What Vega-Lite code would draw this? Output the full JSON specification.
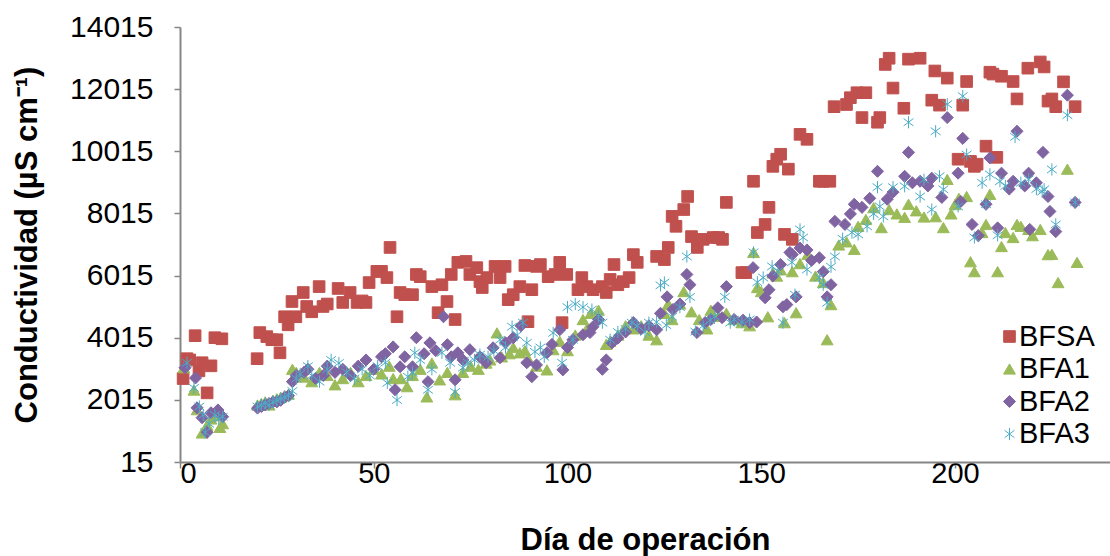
{
  "$schema": "https://vega.github.io/schema/vega-lite/v6.json",
  "width": 930,
  "height": 435,
  "autosize": {"type": "none"},
  "padding": {"left": 180, "top": 27, "right": 0, "bottom": 94},
  "background": "white",
  "config": {
    "view": {"stroke": null},
    "font": "Liberation Sans",
    "axis": {"grid": false, "domainColor": "#868686", "domainWidth": 2, "tickColor": "#868686", "tickWidth": 1.5, "tickSize": 6, "labelFont": "Liberation Sans", "labelColor": "#000000", "labelFontSize": 30, "titleFont": "Liberation Sans", "titleFontWeight": "bold", "titleFontSize": 31, "titleColor": "#000000"}
  },
  "data": {"values": [
    {"dia":0.8,"BFSA":2700},{"dia":1.8,"BFSA":3340},{"dia":2.5,"BFSA":3300},{"dia":3.9,"BFSA":4080},{"dia":4.9,"BFSA":2950},{"dia":5.7,"BFSA":3210},{"dia":7,"BFSA":2240},{"dia":8,"BFSA":3110},{"dia":9,"BFSA":4015},{"dia":10.8,"BFSA":3980},
    {"dia":19.9,"BFSA":3340},{"dia":20.6,"BFSA":4180},{"dia":22.4,"BFSA":4050},{"dia":23.7,"BFSA":3950},{"dia":25,"BFSA":3950},{"dia":25.8,"BFSA":3530},{"dia":27,"BFSA":4690},{"dia":27.9,"BFSA":4430},{"dia":28.9,"BFSA":5180},{"dia":29.9,"BFSA":4690},{"dia":31.8,"BFSA":5470},{"dia":32.7,"BFSA":5020},{"dia":34,"BFSA":4850},{"dia":35.9,"BFSA":5660},{"dia":36.9,"BFSA":5020},{"dia":38,"BFSA":5100},{"dia":40.8,"BFSA":5600},{"dia":42,"BFSA":5150},{"dia":43.9,"BFSA":5470},{"dia":45.7,"BFSA":5150},{"dia":47,"BFSA":5200},{"dia":48,"BFSA":5150},{"dia":48.8,"BFSA":5790},{"dia":50.8,"BFSA":6150},{"dia":52,"BFSA":6150},{"dia":53.4,"BFSA":5950},{"dia":54.2,"BFSA":6920},{"dia":56,"BFSA":4690},{"dia":56.8,"BFSA":5470},{"dia":58,"BFSA":5400},{"dia":60,"BFSA":5400},{"dia":61,"BFSA":6050},{"dia":62,"BFSA":5980},{"dia":65,"BFSA":5660},{"dia":66.6,"BFSA":4820},{"dia":67.6,"BFSA":5720},{"dia":68.9,"BFSA":5180},{"dia":70,"BFSA":6050},{"dia":71,"BFSA":4600},{"dia":71.7,"BFSA":6440},{"dia":73.8,"BFSA":6470},{"dia":74.8,"BFSA":6050},{"dia":76.6,"BFSA":6270},{"dia":77.4,"BFSA":5820},{"dia":78,"BFSA":5630},{"dia":79.2,"BFSA":5950},{"dia":81.3,"BFSA":6310},{"dia":82.6,"BFSA":5950},{"dia":83.9,"BFSA":6310},{"dia":84.7,"BFSA":5240},{"dia":86,"BFSA":5400},{"dia":87.7,"BFSA":5660},{"dia":89,"BFSA":6340},{"dia":89.8,"BFSA":4530},{"dia":90.8,"BFSA":5560},{"dia":92,"BFSA":6310},{"dia":93,"BFSA":6370},{"dia":95,"BFSA":5980},{"dia":96.8,"BFSA":6050},{"dia":98,"BFSA":6440},{"dia":98.6,"BFSA":4500},{"dia":99.8,"BFSA":6050},{"dia":102.7,"BFSA":5560},{"dia":103.7,"BFSA":5950},{"dia":105,"BFSA":5660},{"dia":106.6,"BFSA":5560},{"dia":109,"BFSA":5660},{"dia":110,"BFSA":5470},{"dia":111,"BFSA":5890},{"dia":112,"BFSA":6370},{"dia":113,"BFSA":5720},{"dia":114.4,"BFSA":5820},{"dia":115.9,"BFSA":5950},{"dia":117,"BFSA":6690},{"dia":118,"BFSA":6440},{"dia":123,"BFSA":6630},{"dia":125,"BFSA":6530},{"dia":126,"BFSA":6920},{"dia":127,"BFSA":7920},{"dia":128,"BFSA":7600},{"dia":130,"BFSA":8140},{"dia":131,"BFSA":8560},{"dia":132,"BFSA":7270},{"dia":133.5,"BFSA":6920},{"dia":135,"BFSA":7180},{"dia":137.6,"BFSA":7240},{"dia":139,"BFSA":7240},{"dia":140,"BFSA":7180},{"dia":141,"BFSA":8370},{"dia":145,"BFSA":6110},{"dia":146,"BFSA":6110},{"dia":148,"BFSA":9050},{"dia":149,"BFSA":7400},{"dia":151,"BFSA":7660},{"dia":152,"BFSA":8210},{"dia":153,"BFSA":9530},{"dia":154,"BFSA":9760},{"dia":155,"BFSA":9920},{"dia":156,"BFSA":7340},{"dia":157,"BFSA":9440},{"dia":158,"BFSA":7180},{"dia":160,"BFSA":10560},{"dia":161.8,"BFSA":10400},{"dia":165,"BFSA":9050},{"dia":166,"BFSA":9050},{"dia":167.7,"BFSA":9050},{"dia":168.8,"BFSA":11450},{"dia":172,"BFSA":11520},{"dia":173,"BFSA":11740},{"dia":174.7,"BFSA":11900},{"dia":176,"BFSA":11100},{"dia":177,"BFSA":11900},{"dia":180,"BFSA":10950},{"dia":180.6,"BFSA":11100},{"dia":182,"BFSA":12810},{"dia":183,"BFSA":13010},{"dia":184,"BFSA":12050},{"dia":186.8,"BFSA":11400},{"dia":188,"BFSA":12980},{"dia":191,"BFSA":13010},{"dia":194,"BFSA":11660},{"dia":194.8,"BFSA":12600},{"dia":196,"BFSA":11500},{"dia":198,"BFSA":12370},{"dia":200.8,"BFSA":9760},{"dia":202,"BFSA":11500},{"dia":203,"BFSA":12260},{"dia":204,"BFSA":9690},{"dia":205,"BFSA":9530},{"dia":205.7,"BFSA":9600},{"dia":208,"BFSA":10180},{"dia":209,"BFSA":12560},{"dia":209.8,"BFSA":12500},{"dia":210.8,"BFSA":9820},{"dia":212,"BFSA":12430},{"dia":215,"BFSA":12260},{"dia":216,"BFSA":11700},{"dia":218.8,"BFSA":12690},{"dia":222,"BFSA":12890},{"dia":223,"BFSA":12730},{"dia":224,"BFSA":11630},{"dia":225,"BFSA":11700},{"dia":226,"BFSA":11450},{"dia":228,"BFSA":12250},{"dia":231,"BFSA":11450},

    {"dia":1,"BFA1":3050},{"dia":3.6,"BFA1":2330},{"dia":4.4,"BFA1":1700},{"dia":5.7,"BFA1":950},{"dia":7,"BFA1":1200},{"dia":8,"BFA1":1400},{"dia":9.5,"BFA1":1500},{"dia":10.3,"BFA1":1130},{"dia":11,"BFA1":1250},
    {"dia":20,"BFA1":1850},{"dia":21,"BFA1":1900},{"dia":22,"BFA1":1950},{"dia":23,"BFA1":1850},{"dia":24,"BFA1":2000},{"dia":25,"BFA1":2050},{"dia":26,"BFA1":2100},{"dia":27,"BFA1":2150},{"dia":28,"BFA1":2200},{"dia":29,"BFA1":3000},{"dia":30,"BFA1":2900},
    {"dia":32,"BFA1":2750},{"dia":34,"BFA1":2600},{"dia":36,"BFA1":2900},{"dia":38,"BFA1":2800},{"dia":40,"BFA1":2500},{"dia":42,"BFA1":2700},{"dia":44,"BFA1":2900},{"dia":46,"BFA1":2600},{"dia":48,"BFA1":2800},{"dia":50,"BFA1":3000},{"dia":52,"BFA1":2850},{"dia":54,"BFA1":3100},{"dia":55,"BFA1":2700},
    {"dia":57,"BFA1":2700},{"dia":58.6,"BFA1":2440},{"dia":60,"BFA1":2800},{"dia":62,"BFA1":3000},{"dia":63.7,"BFA1":2110},{"dia":65,"BFA1":3200},{"dia":67,"BFA1":2660},{"dia":69,"BFA1":2900},{"dia":71,"BFA1":2180},{"dia":73,"BFA1":2900},{"dia":75,"BFA1":3100},{"dia":77,"BFA1":3000},{"dia":79,"BFA1":3200},{"dia":80,"BFA1":3300},
    {"dia":81.8,"BFA1":4170},{"dia":83,"BFA1":3400},{"dia":85,"BFA1":3500},{"dia":86,"BFA1":3700},{"dia":87.7,"BFA1":3530},{"dia":89,"BFA1":3600},{"dia":90,"BFA1":3300},{"dia":92,"BFA1":3100},{"dia":94.7,"BFA1":2980},{"dia":96.3,"BFA1":3630},{"dia":98,"BFA1":3900},{"dia":100,"BFA1":3600},{"dia":102,"BFA1":4100},{"dia":104,"BFA1":4600},{"dia":105,"BFA1":4300},
    {"dia":106,"BFA1":4800},{"dia":108,"BFA1":4900},{"dia":110,"BFA1":3800},{"dia":111,"BFA1":3900},{"dia":113,"BFA1":4100},{"dia":115,"BFA1":4400},{"dia":117,"BFA1":4300},{"dia":119,"BFA1":4400},{"dia":121,"BFA1":4100},{"dia":123,"BFA1":3950},{"dia":125,"BFA1":4800},{"dia":126,"BFA1":5100},{"dia":127,"BFA1":4600},{"dia":129,"BFA1":5100},{"dia":130,"BFA1":5500},
    {"dia":132,"BFA1":4850},{"dia":134,"BFA1":4600},{"dia":136,"BFA1":4300},{"dia":137,"BFA1":4900},{"dia":139,"BFA1":4700},{"dia":141,"BFA1":4800},{"dia":143,"BFA1":4600},{"dia":145,"BFA1":4500},{"dia":147,"BFA1":4400},{"dia":148,"BFA1":6760},{"dia":149,"BFA1":5630},{"dia":150,"BFA1":5500},{"dia":151.7,"BFA1":4690},{"dia":153,"BFA1":6100},{"dia":154,"BFA1":6000},{"dia":155,"BFA1":6200},{"dia":156,"BFA1":4500},{"dia":158,"BFA1":6140},{"dia":159,"BFA1":4820},{"dia":160,"BFA1":6400},
    {"dia":162,"BFA1":6700},{"dia":164,"BFA1":6000},{"dia":166,"BFA1":5790},{"dia":167,"BFA1":3950},{"dia":168,"BFA1":5080},{"dia":170,"BFA1":7000},{"dia":172,"BFA1":7100},{"dia":174,"BFA1":6860},{"dia":175,"BFA1":7600},{"dia":177,"BFA1":7820},{"dia":179,"BFA1":8200},{"dia":181,"BFA1":7560},{"dia":183,"BFA1":8140},{"dia":185,"BFA1":8000},{"dia":187,"BFA1":7890},{"dia":188,"BFA1":8310},{"dia":190,"BFA1":8100},{"dia":192,"BFA1":7900},{"dia":195,"BFA1":7910},{"dia":197,"BFA1":7560},{"dia":198,"BFA1":9110},{"dia":199,"BFA1":8000},{"dia":200,"BFA1":8300},
    {"dia":201,"BFA1":8500},{"dia":203,"BFA1":8560},{"dia":204,"BFA1":6460},{"dia":205,"BFA1":6140},{"dia":207,"BFA1":7400},{"dia":208,"BFA1":7660},{"dia":209,"BFA1":8630},{"dia":211,"BFA1":6140},{"dia":212,"BFA1":6950},{"dia":213,"BFA1":7400},{"dia":215,"BFA1":7240},{"dia":216,"BFA1":7660},{"dia":217,"BFA1":7600},{"dia":219,"BFA1":7500},{"dia":220,"BFA1":7300},{"dia":222,"BFA1":7500},{"dia":224,"BFA1":6690},{"dia":225,"BFA1":6700},{"dia":226.6,"BFA1":5790},{"dia":229,"BFA1":9440},{"dia":231.5,"BFA1":6440},

    {"dia":1.3,"BFA2":3050},{"dia":4,"BFA2":2720},{"dia":4.4,"BFA2":1760},{"dia":5.7,"BFA2":1440},{"dia":7,"BFA2":970},{"dia":8,"BFA2":1600},{"dia":9.8,"BFA2":1690},{"dia":11,"BFA2":1470},
    {"dia":20,"BFA2":1750},{"dia":21,"BFA2":1800},{"dia":22,"BFA2":1850},{"dia":23,"BFA2":1900},{"dia":24,"BFA2":1950},{"dia":25,"BFA2":1950},{"dia":26,"BFA2":2000},{"dia":27,"BFA2":2100},{"dia":28,"BFA2":2150},{"dia":29,"BFA2":2600},{"dia":30,"BFA2":2800},
    {"dia":32,"BFA2":2900},{"dia":33,"BFA2":3000},{"dia":35,"BFA2":2700},{"dia":37,"BFA2":2800},{"dia":38,"BFA2":3100},{"dia":40,"BFA2":2900},{"dia":42,"BFA2":3000},{"dia":44,"BFA2":2800},{"dia":46,"BFA2":3100},{"dia":48,"BFA2":3300},{"dia":50,"BFA2":3000},{"dia":52,"BFA2":3400},{"dia":53,"BFA2":3500},{"dia":55,"BFA2":3720},
    {"dia":55.5,"BFA2":2340},{"dia":56.8,"BFA2":3080},{"dia":58,"BFA2":3400},{"dia":60,"BFA2":3080},{"dia":61,"BFA2":4015},{"dia":63,"BFA2":3500},{"dia":64,"BFA2":2600},{"dia":64.5,"BFA2":3850},{"dia":66,"BFA2":3600},{"dia":68,"BFA2":4690},{"dia":69,"BFA2":3790},{"dia":70,"BFA2":3400},{"dia":71,"BFA2":2660},{"dia":71.7,"BFA2":3530},{"dia":73,"BFA2":3300},{"dia":74.8,"BFA2":3630},
    {"dia":77.4,"BFA2":3400},{"dia":79,"BFA2":3210},{"dia":80.8,"BFA2":3690},{"dia":82.6,"BFA2":3370},{"dia":84,"BFA2":3850},{"dia":86,"BFA2":4015},{"dia":88,"BFA2":4400},{"dia":89.5,"BFA2":3210},{"dia":90.8,"BFA2":2760},{"dia":92,"BFA2":3140},{"dia":94.7,"BFA2":3530},{"dia":96,"BFA2":3800},{"dia":98,"BFA2":4270},{"dia":98.8,"BFA2":2980},{"dia":100,"BFA2":3700},{"dia":101.4,"BFA2":3950},{"dia":104,"BFA2":4110},{"dia":105.8,"BFA2":4180},{"dia":106.6,"BFA2":4370},
    {"dia":108,"BFA2":4600},{"dia":109,"BFA2":3000},{"dia":110,"BFA2":3300},{"dia":111.5,"BFA2":3850},{"dia":113,"BFA2":4000},{"dia":115,"BFA2":4200},{"dia":117,"BFA2":4500},{"dia":119,"BFA2":4300},{"dia":121,"BFA2":4400},{"dia":123,"BFA2":4270},{"dia":124,"BFA2":4800},{"dia":125.7,"BFA2":5330},{"dia":127.2,"BFA2":4920},{"dia":129,"BFA2":5100},{"dia":130.8,"BFA2":6050},{"dia":131.6,"BFA2":5720},{"dia":133.4,"BFA2":4180},{"dia":135.5,"BFA2":4500},{"dia":137,"BFA2":4600},{"dia":138.8,"BFA2":4980},{"dia":139.9,"BFA2":4660},{"dia":141,"BFA2":5660},{"dia":143,"BFA2":4600},{"dia":145.3,"BFA2":4580},{"dia":147,"BFA2":4500},{"dia":147.9,"BFA2":6270},{"dia":148.8,"BFA2":4520},{"dia":151,"BFA2":5300},{"dia":152,"BFA2":5560},{"dia":153,"BFA2":6000},{"dia":155,"BFA2":6370},{"dia":155.6,"BFA2":5010},{"dia":156.6,"BFA2":5080},{"dia":157.4,"BFA2":6760},{"dia":158,"BFA2":6690},
    {"dia":159,"BFA2":5330},{"dia":160,"BFA2":6900},{"dia":161.8,"BFA2":6840},{"dia":163,"BFA2":6500},{"dia":165,"BFA2":6590},{"dia":166,"BFA2":6140},{"dia":167,"BFA2":5330},{"dia":168,"BFA2":5720},{"dia":169,"BFA2":7760},{"dia":171.6,"BFA2":7660},{"dia":173,"BFA2":8000},{"dia":174,"BFA2":8310},{"dia":176,"BFA2":8210},{"dia":178,"BFA2":8500},{"dia":180,"BFA2":9370},{"dia":182.5,"BFA2":8470},{"dia":184,"BFA2":8700},{"dia":187,"BFA2":9210},{"dia":188,"BFA2":9980},{"dia":189,"BFA2":9000},{"dia":191,"BFA2":9050},{"dia":193,"BFA2":8900},{"dia":194,"BFA2":9150},{"dia":196.6,"BFA2":8530},{"dia":198,"BFA2":11100},{"dia":200.8,"BFA2":9310},
    {"dia":201.5,"BFA2":8400},{"dia":202,"BFA2":10430},{"dia":204.4,"BFA2":7660},{"dia":206,"BFA2":7300},{"dia":208,"BFA2":8310},{"dia":209,"BFA2":9800},{"dia":211,"BFA2":7550},{"dia":212,"BFA2":9310},{"dia":214,"BFA2":8800},{"dia":215,"BFA2":9050},{"dia":216,"BFA2":10660},{"dia":218,"BFA2":8900},{"dia":219,"BFA2":9310},{"dia":219.3,"BFA2":7500},{"dia":221,"BFA2":9000},{"dia":222.7,"BFA2":9980},{"dia":224,"BFA2":8560},{"dia":224.5,"BFA2":8080},{"dia":226,"BFA2":7430},{"dia":229,"BFA2":11820},{"dia":231,"BFA2":8370},

    {"dia":1.8,"BFA3":3210},{"dia":3.6,"BFA3":2400},{"dia":5,"BFA3":1800},{"dia":6,"BFA3":1530},{"dia":6.5,"BFA3":970},{"dia":7.5,"BFA3":1250},{"dia":9,"BFA3":1530},{"dia":10,"BFA3":1400},{"dia":11,"BFA3":1470},
    {"dia":20,"BFA3":1800},{"dia":21,"BFA3":1850},{"dia":22,"BFA3":1900},{"dia":23,"BFA3":1850},{"dia":24,"BFA3":1950},{"dia":25,"BFA3":2000},{"dia":26,"BFA3":2050},{"dia":27,"BFA3":2100},{"dia":28,"BFA3":2150},{"dia":29,"BFA3":2300},
    {"dia":30,"BFA3":2700},{"dia":31,"BFA3":2850},{"dia":33,"BFA3":3100},{"dia":34,"BFA3":2800},{"dia":36,"BFA3":2600},{"dia":38,"BFA3":3000},{"dia":39,"BFA3":3300},{"dia":41,"BFA3":3200},{"dia":43,"BFA3":2900},{"dia":45,"BFA3":2700},{"dia":47,"BFA3":3000},{"dia":49,"BFA3":2800},{"dia":51,"BFA3":3100},{"dia":53,"BFA3":3210},{"dia":53.5,"BFA3":2560},
    {"dia":56,"BFA3":2010},{"dia":58.8,"BFA3":2760},{"dia":60,"BFA3":2890},{"dia":60.6,"BFA3":3530},{"dia":62,"BFA3":3300},{"dia":64,"BFA3":2340},{"dia":65,"BFA3":3000},{"dia":67.6,"BFA3":3530},{"dia":69.7,"BFA3":3210},{"dia":71,"BFA3":2270},{"dia":73,"BFA3":3050},{"dia":74.3,"BFA3":3210},{"dia":76,"BFA3":3300},{"dia":77.4,"BFA3":3470},{"dia":79.5,"BFA3":3400},{"dia":81,"BFA3":3600},{"dia":82.6,"BFA3":3950},{"dia":84,"BFA3":3700},{"dia":85.7,"BFA3":4370},{"dia":87,"BFA3":4100},{"dia":88.5,"BFA3":4500},{"dia":89.5,"BFA3":3850},{"dia":91.6,"BFA3":3560},{"dia":93,"BFA3":3700},{"dia":94,"BFA3":3400},{"dia":96.3,"BFA3":4170},{"dia":98.6,"BFA3":3210},{"dia":100,"BFA3":5000},{"dia":101.4,"BFA3":3950},{"dia":102,"BFA3":5100},{"dia":104,"BFA3":5000},{"dia":106.3,"BFA3":4920},
    {"dia":108,"BFA3":4700},{"dia":109,"BFA3":4500},{"dia":111,"BFA3":3950},{"dia":113,"BFA3":4200},{"dia":115,"BFA3":4300},{"dia":116.6,"BFA3":4500},{"dia":118,"BFA3":4400},{"dia":120,"BFA3":4200},{"dia":121,"BFA3":4500},{"dia":123,"BFA3":4520},{"dia":124,"BFA3":5700},{"dia":125,"BFA3":5790},{"dia":125.5,"BFA3":4420},{"dia":127,"BFA3":4690},{"dia":129,"BFA3":5000},{"dia":130.8,"BFA3":6630},{"dia":131.6,"BFA3":5330},{"dia":133,"BFA3":4210},{"dia":135,"BFA3":4400},{"dia":136.8,"BFA3":4580},{"dia":138,"BFA3":4700},{"dia":140.6,"BFA3":5330},{"dia":142,"BFA3":4500},{"dia":143,"BFA3":4600},{"dia":145,"BFA3":4520},{"dia":147,"BFA3":4600},{"dia":148,"BFA3":6760},{"dia":149,"BFA3":5800},{"dia":150.5,"BFA3":5950},{"dia":152.8,"BFA3":6310},{"dia":154.3,"BFA3":6150},{"dia":155.6,"BFA3":4500},{"dia":157.9,"BFA3":6440},
    {"dia":158.7,"BFA3":5400},{"dia":160,"BFA3":7500},{"dia":160.8,"BFA3":7240},{"dia":161.8,"BFA3":6210},{"dia":165,"BFA3":5950},{"dia":166,"BFA3":5720},{"dia":167,"BFA3":5140},{"dia":168,"BFA3":6300},{"dia":169,"BFA3":6630},{"dia":171,"BFA3":7200},{"dia":173.4,"BFA3":7400},{"dia":175,"BFA3":7340},{"dia":177.3,"BFA3":7600},{"dia":179,"BFA3":8000},{"dia":180,"BFA3":8860},{"dia":180.6,"BFA3":8240},{"dia":181.5,"BFA3":7920},{"dia":184,"BFA3":8860},{"dia":187,"BFA3":8890},{"dia":188,"BFA3":10950},{"dia":191,"BFA3":8560},{"dia":192,"BFA3":9100},{"dia":194,"BFA3":8140},{"dia":195,"BFA3":10660},{"dia":196,"BFA3":9210},{"dia":197,"BFA3":8790},{"dia":198,"BFA3":11530},{"dia":200.8,"BFA3":8240},
    {"dia":202,"BFA3":11790},{"dia":203,"BFA3":9910},{"dia":205,"BFA3":7240},{"dia":207,"BFA3":9000},{"dia":208,"BFA3":8310},{"dia":209,"BFA3":9270},{"dia":211,"BFA3":7310},{"dia":211.6,"BFA3":9050},{"dia":213,"BFA3":8900},{"dia":215.5,"BFA3":10480},{"dia":217,"BFA3":9000},{"dia":219,"BFA3":9110},{"dia":221,"BFA3":8800},{"dia":222.5,"BFA3":8720},{"dia":223,"BFA3":8790},{"dia":225,"BFA3":9430},{"dia":226,"BFA3":7660},{"dia":229,"BFA3":11180},{"dia":231,"BFA3":8370}
  ]},
  "transform": [
    {"fold": ["BFSA", "BFA1", "BFA2", "BFA3"], "as": ["serie", "valor"]},
    {"filter": "isValid(datum.valor)"}
  ],
  "mark": {"type": "point", "filled": true, "opacity": 1, "clip": false},
  "encoding": {
    "x": {"field": "dia", "type": "quantitative", "scale": {"domain": [0, 240], "nice": false, "zero": false},
      "axis": {"values": [0, 50, 100, 150, 200], "title": "Día de operación", "labelPadding": -9, "titlePadding": 37, "labelFontSize": 29}},
    "y": {"field": "valor", "type": "quantitative", "scale": {"domain": [15, 14015], "nice": false, "zero": false},
      "axis": {"values": [15, 2015, 4015, 6015, 8015, 10015, 12015, 14015], "format": "d", "title": "Conductividad (µS cm⁻¹)", "labelPadding": 21, "titlePadding": 26}},
    "color": {"field": "serie", "type": "nominal",
      "scale": {"domain": ["BFSA", "BFA1", "BFA2", "BFA3"], "range": ["#C0504D", "#9BBB59", "#8064A2", "#4BACC6"]},
      "legend": {"title": null, "orient": "none", "legendX": 815, "legendY": 295, "labelFontSize": 29, "labelFont": "Liberation Sans", "labelColor": "#000000", "symbolSize": 150, "rowPadding": 2.5, "labelOffset": -5,
        "encode": {"symbols": {"update": {"stroke": {"scale": "color", "field": "value"}, "strokeWidth": {"value": 1.8}}}}}},
    "shape": {"field": "serie", "type": "nominal",
      "scale": {"domain": ["BFSA", "BFA1", "BFA2", "BFA3"], "range": ["square", "triangle-up", "diamond", "M0,-1V1M-0.8,-0.6L0.8,0.6M-0.8,0.6L0.8,-0.6"]}},
    "stroke": {"field": "serie", "type": "nominal",
      "scale": {"domain": ["BFSA", "BFA1", "BFA2", "BFA3"], "range": ["#C0504D", "#9BBB59", "#8064A2", "#4BACC6"]}, "legend": null},
    "strokeWidth": {"field": "serie", "type": "nominal",
      "scale": {"domain": ["BFSA", "BFA1", "BFA2", "BFA3"], "range": [1, 1, 1, 2.2]}, "legend": null},
    "size": {"field": "serie", "type": "nominal",
      "scale": {"domain": ["BFSA", "BFA1", "BFA2", "BFA3"], "range": [135, 150, 220, 260]}, "legend": null}
  }
}
